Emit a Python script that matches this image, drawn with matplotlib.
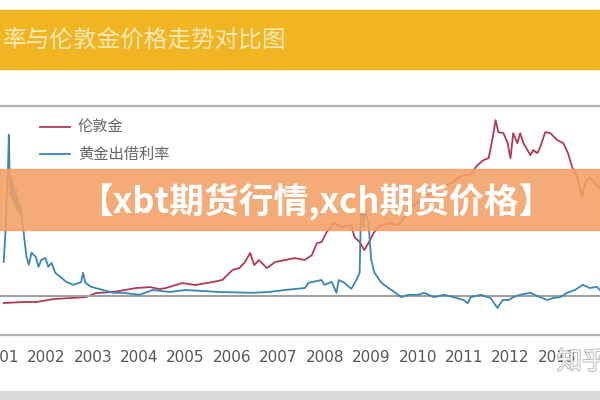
import matplotlib.pyplot as plt
from matplotlib.patches import Rectangle
import matplotlib.patheffects as pe

plt.rcParams['font.family'] = ['Noto Sans CJK SC', 'DejaVu Sans']

# London gold price (USD/oz), decimal years
gold_year = [2001.08, 2001.51, 2001.79, 2002.15, 2002.51, 2002.86, 2003.07, 2003.44,
             2003.93, 2004.23, 2004.44, 2004.57, 2004.93, 2005.21, 2005.58, 2005.79,
             2006.01, 2006.16, 2006.28, 2006.39, 2006.48, 2006.58, 2006.75, 2006.93,
             2007.14, 2007.35, 2007.57, 2007.72, 2007.83, 2007.93, 2008.04, 2008.19,
             2008.36, 2008.57, 2008.64, 2008.75, 2008.85, 2008.94, 2009.05, 2009.15,
             2009.37, 2009.58, 2009.71, 2009.86, 2010.07, 2010.29, 2010.50, 2010.72,
             2010.93, 2011.14, 2011.29, 2011.42, 2011.53, 2011.62, 2011.68, 2011.74,
             2011.85, 2011.94, 2012.00, 2012.06, 2012.15, 2012.21, 2012.28, 2012.43,
             2012.49, 2012.58, 2012.64, 2012.75, 2012.86, 2013.01, 2013.14, 2013.24,
             2013.33, 2013.44, 2013.54, 2013.61, 2013.71, 2013.82, 2013.93]
gold_price = [285, 294, 294, 320, 329, 338, 374, 383,
              418, 427, 409, 418, 463, 445, 472, 490,
              579, 596, 650, 730, 623, 668, 596, 650,
              668, 685, 668, 712, 819, 828, 917, 997,
              961, 979, 872, 828, 757, 819, 908, 961,
              997, 979, 1050, 1139, 1202, 1264, 1308, 1353,
              1415, 1433, 1513, 1558, 1575, 1762, 1914, 1807,
              1798, 1709, 1575, 1798, 1709, 1798, 1709, 1602,
              1647, 1620, 1673, 1807, 1798, 1736, 1709, 1620,
              1495, 1406, 1228, 1353, 1406, 1353, 1308]

# gold lease rate (%)
lease_year = [2001.08, 2001.12, 2001.14, 2001.17, 2001.19, 2001.21, 2001.23, 2001.25,
              2001.27, 2001.29, 2001.32, 2001.34, 2001.36, 2001.38, 2001.42, 2001.44,
              2001.49, 2001.51, 2001.57, 2001.62, 2001.68, 2001.77, 2001.83, 2001.89,
              2001.98, 2002.04, 2002.11, 2002.19, 2002.30, 2002.43, 2002.58, 2002.75,
              2002.79, 2002.84, 2002.96, 2003.22, 2003.44, 2003.65, 2004.01, 2004.29,
              2004.66, 2005.00, 2005.73, 2006.43, 2006.80, 2007.14, 2007.57, 2007.65,
              2007.93, 2007.99, 2008.15, 2008.25, 2008.30, 2008.42, 2008.57, 2008.68,
              2008.75, 2008.79, 2008.83, 2008.85, 2008.94, 2009.00, 2009.07, 2009.22,
              2009.37, 2009.50, 2009.65, 2009.80, 2010.01, 2010.14, 2010.35, 2010.57,
              2010.78, 2010.99, 2011.08, 2011.14, 2011.36, 2011.57, 2011.72, 2011.83,
              2011.96, 2012.06, 2012.21, 2012.43, 2012.64, 2012.79, 2012.92, 2013.07,
              2013.22, 2013.39, 2013.56, 2013.71, 2013.86, 2013.93]
lease_rate = [0.85, 1.65, 2.40, 3.03, 4.03, 2.90, 2.53, 2.95,
              2.40, 2.78, 2.28, 2.65, 2.15, 2.45, 2.03, 2.28,
              1.78, 1.58, 0.98, 0.78, 1.08, 0.98, 0.73, 0.90,
              0.95, 0.73, 0.83, 0.58, 0.48, 0.35, 0.28, 0.35,
              0.58, 0.33, 0.23, 0.15, 0.08, 0.08, 0.03, 0.15,
              0.10, 0.15, 0.10, 0.08, 0.10, 0.15, 0.20, 0.33,
              0.40, 0.28, 0.35, 0.08, 0.40, 0.33, 0.18, 0.40,
              0.58, 2.73, 1.73, 2.15, 1.83, 0.90, 0.58, 0.33,
              0.20, 0.10, -0.03, 0.03, 0.03, 0.08, -0.03, 0.03,
              -0.03, -0.10, -0.18, -0.03, 0.03, -0.05, -0.30, -0.10,
              -0.10, -0.03, 0.03, 0.08, -0.03, -0.10, -0.05, -0.03,
              0.08, 0.15, 0.28, 0.20, 0.23, 0.15]

years = list(range(2001, 2014))
title = '率与伦敦金价格走势对比图'
banner = '【xbt期货行情,xch期货价格】'

fig = plt.figure(figsize=(6, 4), dpi=100)

# title band
fig.patches.append(Rectangle((0, 1 - 69 / 400), 1, 59 / 400, transform=fig.transFigure,
                             color='#F1B422', zorder=0))
fig.text(0.004, 1 - 40 / 400, title, color='#FCEBB8', fontsize=17, va='center', ha='left')

ax = fig.add_axes([0, 65 / 400, 1, 229 / 400])
ax2 = ax.twinx()

ax.plot(gold_year, gold_price, color='#B23A55', lw=1.3)
ax2.plot(lease_year, lease_rate, color='#3A86B4', lw=1.3)
ax2.axhline(0, color='#A0A0A0', lw=1.5, zorder=0)

ax.set_xlim(2001.08, 2013.93)
ax.set_ylim(0, 2040)
ax2.set_ylim(-0.975, 4.75)
ax.set_xticks(years)
ax.set_xticklabels([str(y) for y in years], fontsize=11, color='#555555', family='DejaVu Sans')
ax.tick_params(axis='x', length=0, pad=11)
ax.set_yticks([])
ax2.set_yticks([])
for a in (ax, ax2):
    a.spines['left'].set_visible(False)
    a.spines['right'].set_visible(False)
    a.spines['top'].set_color('#B0B0B0')
    a.spines['bottom'].set_color('#B0B0B0')
    a.spines['top'].set_linewidth(1.5)
    a.spines['bottom'].set_linewidth(1.5)

# legend
fig.lines.append(plt.Line2D([40 / 600, 70 / 600], [1 - 127 / 400] * 2, transform=fig.transFigure,
                            color='#B23A55', lw=1.3))
fig.lines.append(plt.Line2D([40 / 600, 70 / 600], [1 - 154 / 400] * 2, transform=fig.transFigure,
                            color='#3A86B4', lw=1.3))
fig.text(78 / 600, 1 - 127 / 400, '伦敦金', color='#666666', fontsize=11, va='center')
fig.text(78 / 600, 1 - 154 / 400, '黄金出借利率', color='#666666', fontsize=11, va='center')

# overlay banner
fig.patches.append(Rectangle((0, 1 - 230 / 400), 1, 61 / 400, transform=fig.transFigure,
                             color='#F4A064', alpha=0.88, zorder=5))
fig.text(316 / 600, 1 - 201 / 400, banner, color='white', fontsize=25, fontweight='bold',
         ha='center', va='center', zorder=6)

# bottom strip
fig.patches.append(Rectangle((0, 0), 1, 9 / 400, transform=fig.transFigure,
                             color='#DADADA', zorder=0))

# watermark
fig.text(582 / 600, 1 - 362 / 400, '知乎', color='white', fontsize=18, ha='center', va='center',
         alpha=0.85, zorder=7, path_effects=[pe.withStroke(linewidth=1.2, foreground='#AAAAAA')])

fig.savefig('out.png', dpi=100)
